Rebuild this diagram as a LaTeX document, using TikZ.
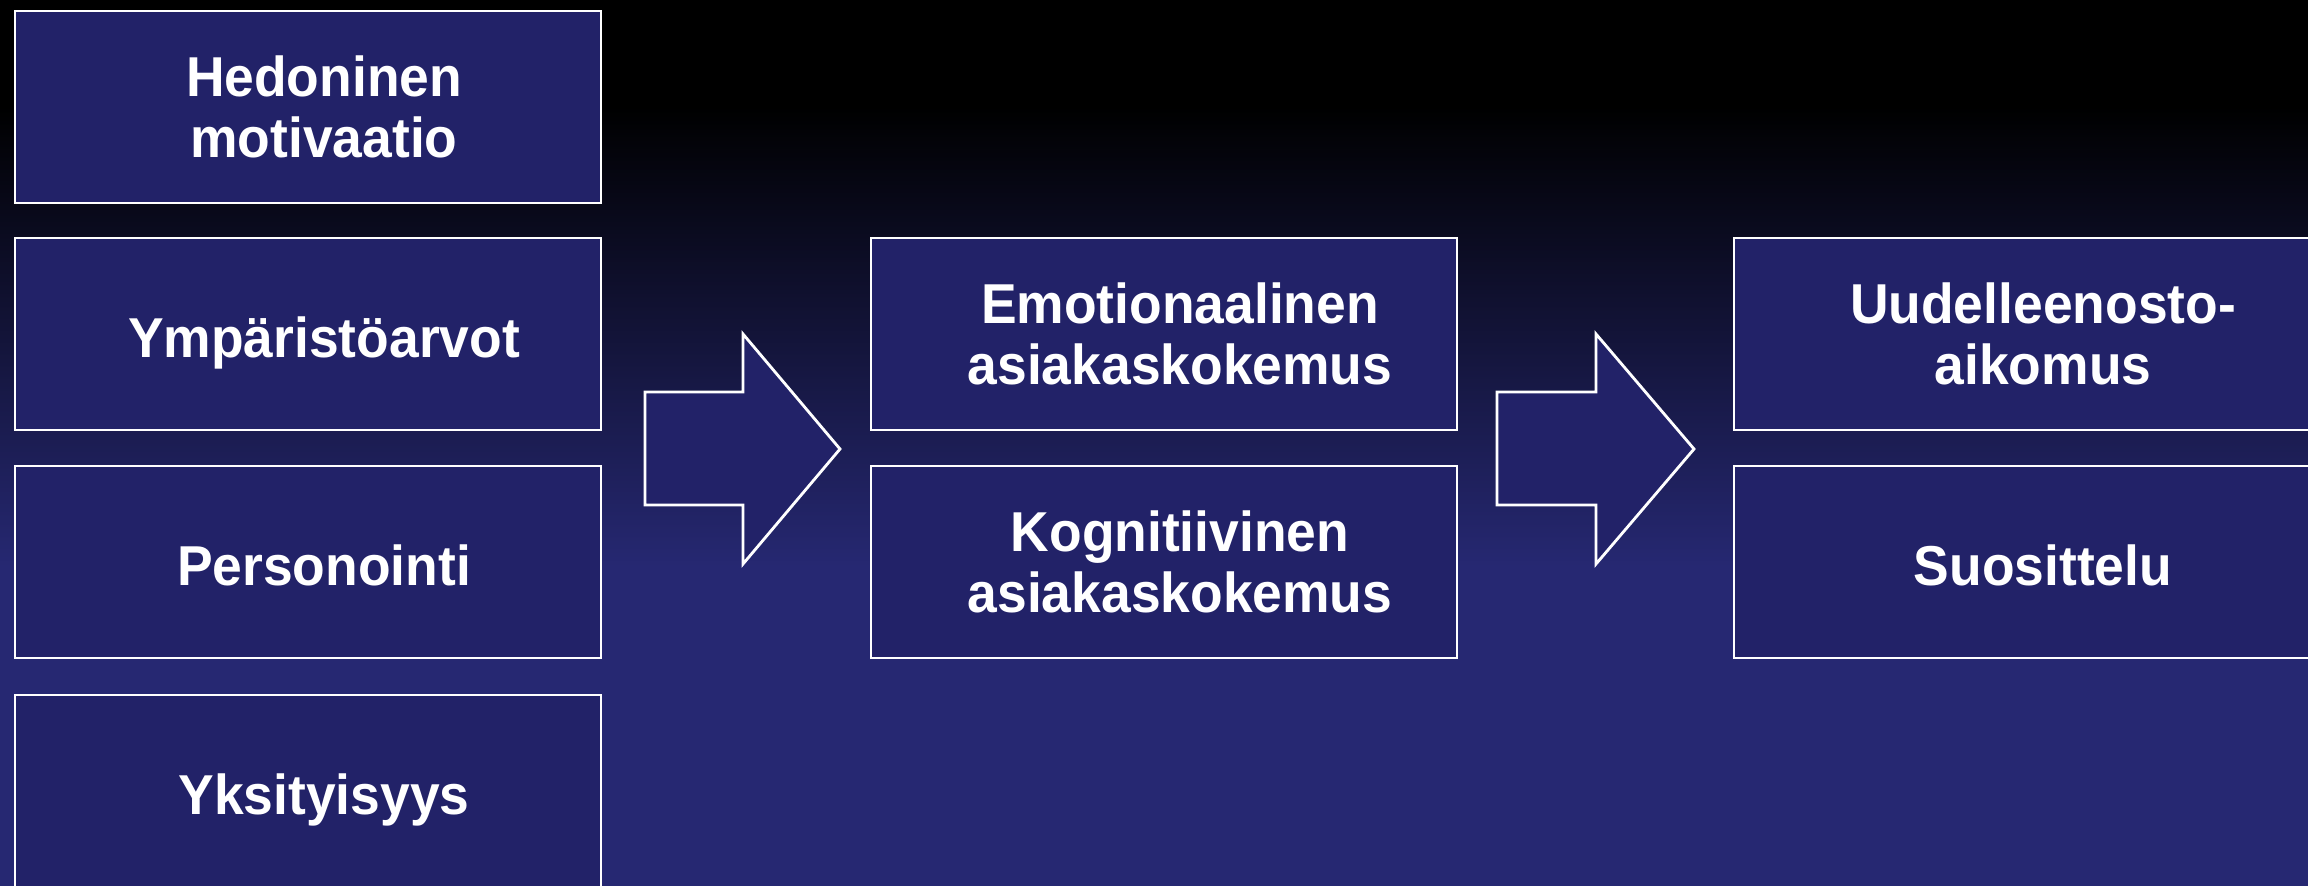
\documentclass[tikz,border=0pt]{standalone}
\usepackage{fontspec}
\setmainfont{Liberation Sans}[FakeStretch=0.95]
\definecolor{bgnavy}{RGB}{38,40,114}
\definecolor{boxnavy}{RGB}{34,34,104}
\pgfdeclareverticalshading{slidebg}{100bp}{color(0bp)=(bgnavy); color(43bp)=(bgnavy); color(69bp)=(black); color(100bp)=(black)}
\tikzset{
  box/.style={draw=white, line width=0.8pt, fill=boxnavy, minimum width=5.86cm, minimum height=1.92cm, inner sep=0pt},
  boxtext/.style={text=white, align=center, xshift=1.6mm, font=\bfseries\fontsize{16}{17.5}\selectfont},
  oneline/.style={text height=13.2pt, text depth=0pt},
  blockarrow/.style={draw=white, line width=0.8pt, fill=boxnavy}
}
\begin{document}
\begin{tikzpicture}[x=0.1mm, y=-0.1mm]
  \useasboundingbox (0,0) rectangle (2308,885);
  \shade[shading=slidebg] (0,0) rectangle (2308,885);
  % vasen sarake: taustatekijat
  \node[box, label={[boxtext]center:Hedoninen\\motivaatio}] (hedon) at (308,107) {};
  \node[box, label={[boxtext, oneline]center:Ympäristöarvot}] (ympar) at (308,334) {};
  \node[box, label={[boxtext, oneline]center:Personointi}] (perso) at (308,562) {};
  \node[box, label={[boxtext, oneline]center:Yksityisyys}] (yksit) at (308,791) {};
  % keskimmainen sarake: asiakaskokemus
  \node[box, label={[boxtext]center:Emotionaalinen\\asiakaskokemus}] (emot) at (1164,334) {};
  \node[box, label={[boxtext]center:Kognitiivinen\\asiakaskokemus}] (kogn) at (1164,562) {};
  % oikea sarake: seuraukset
  \node[box, label={[boxtext]center:Uudelleenosto-\\aikomus}] (uudel) at (2027,334) {};
  \node[box, label={[boxtext, oneline]center:Suosittelu}] (suosi) at (2027,562) {};
  % nuolet
  \draw[blockarrow] (645,392) -- (743,392) -- (743,334) -- (840,449) -- (743,564) -- (743,505) -- (645,505) -- cycle;
  \draw[blockarrow] (1497,392) -- (1596,392) -- (1596,334) -- (1694,449) -- (1596,564) -- (1596,505) -- (1497,505) -- cycle;
\end{tikzpicture}
\end{document}
